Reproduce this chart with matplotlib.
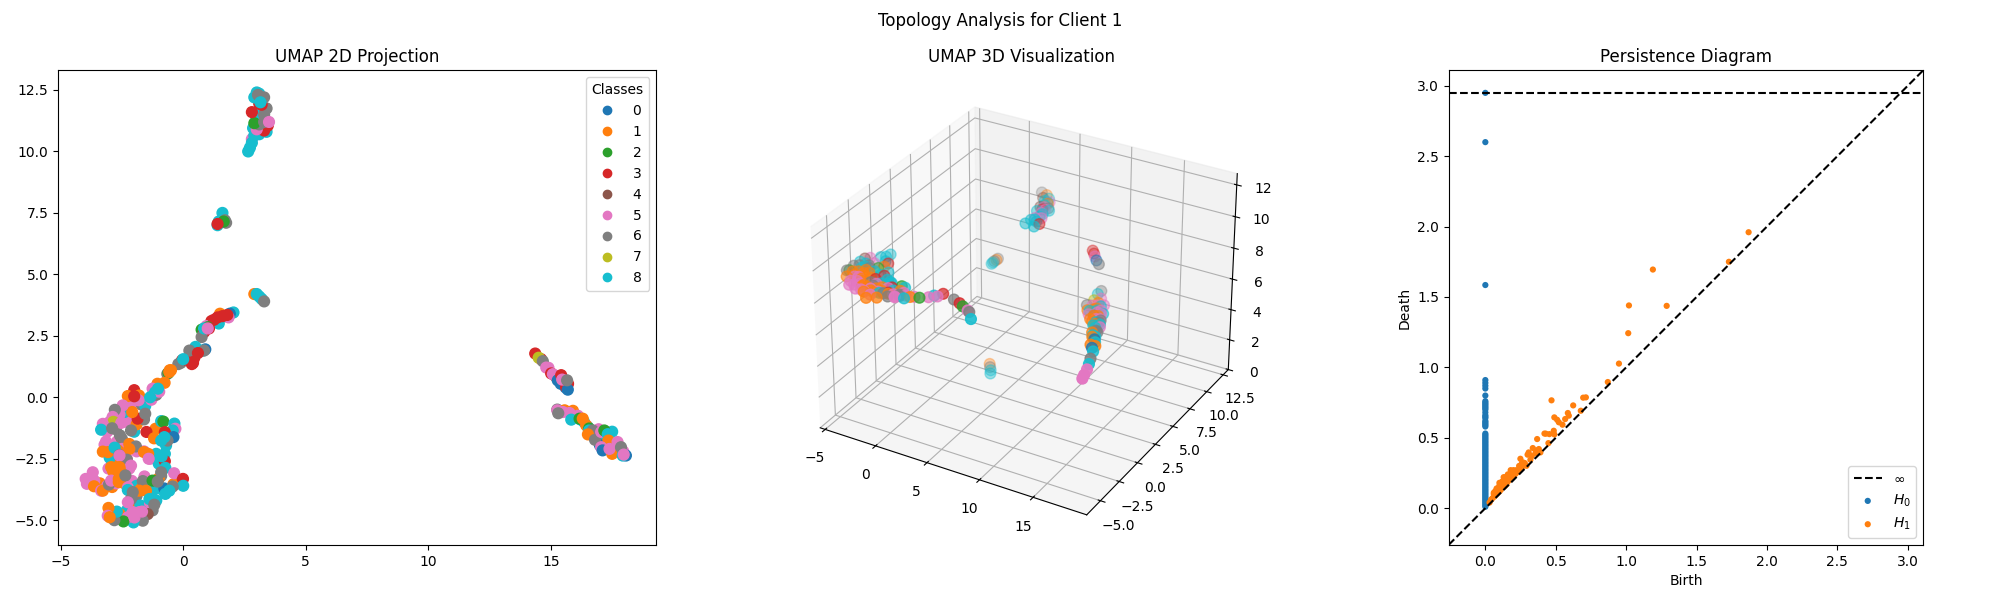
import matplotlib
matplotlib.use("Agg")
import numpy as np
import matplotlib.pyplot as plt

# ---- UMAP 2D, clusters, later points sit on top
fill_x = [-3.0, -3.1, -3.15, -3.0, -2.75, -2.7, -2.5, -2.5, -2.3, -2.2, -2.0, -1.9, -1.9, -2.3, -2.6, -2.9, -3.05, -2.85, -2.5, -2.2, -1.6, -1.35, -1.1, -1.0, -0.75, -0.75, -0.9, -1.0,
          -2.6, -2.4, -2.1, -1.9, -1.7, -1.4, -1.2, -1.0, -1.3, -1.1, -0.85, -2.1, -1.9, -2.2, -1.75, -3.4, -3.1, -2.9, -2.75, -1.6, -1.7, -1.55, -1.3, -1.1, -2.15, -2.4, -2.6,
          -2.0, -1.85, -2.3, -2.6, -1.35, -1.25, -1.5,
          15.7, 15.6, 14.6, 14.9, 15.2, 15.4, 15.9, 16.1, 16.35, 16.5, 16.2, 16.7, 16.9, 17.1, 17.3, 17.0, 17.4, 17.6, 17.75, 17.95, 17.2, 16.95, 17.5,
          0.2, 0.45, -0.1, 1.15, 1.7, 0.95, 3.2, 3.1, 3.0, 3.35, 3.2, 1.55, 1.75, 2.8]
fill_y = [-1.0, -1.4, -1.8, -2.2, -1.3, -1.8, -1.7, -2.1, -1.0, -1.9, -1.4, -1.1, -2.2, -2.5, -2.5, -2.6, -2.9, -3.0, -3.05, -2.9, -2.2, -2.5, -2.3, -2.7, -2.3, -2.6, -3.2, -3.3,
          -3.3, -3.5, -3.4, -3.6, -3.7, -3.5, -3.6, -3.7, -4.0, -4.2, -3.75, -4.0, -4.0, -4.4, -4.4, -3.5, -3.6, -3.65, -3.5, -0.9, -0.3, -0.35, -0.1, 0.1, -0.3, -0.6, -0.7,
          -4.95, -4.95, -4.6, -4.75, -4.3, -4.6, -4.6,
          0.55, 0.4, 1.55, 1.2, 0.85, 0.55, -0.55, -0.75, -1.0, -1.2, -0.9, -1.5, -1.5, -1.7, -1.85, -1.95, -2.05, -2.2, -2.2, -2.2, -1.4, -1.3, -1.4,
          1.5, 1.6, 1.4, 3.1, 3.3, 2.9, 11.4, 10.7, 11.6, 11.0, 12.1, 7.15, 7.1, 10.5]
fill_c = [5, 5, 5, 5, 6, 5, 6, 5, 5, 1, 8, 1, 5, 5, 5, 1, 5, 1, 5, 5, 5, 5, 8, 8, 8, 3, 6, 1,
          6, 1, 5, 8, 1, 8, 8, 8, 8, 8, 8, 5, 6, 1, 8, 1, 5, 1, 5, 6, 6, 8, 5, 6, 5, 8, 5,
          5, 8, 8, 1, 5, 6, 5,
          3, 0, 3, 5, 3, 0, 1, 5, 8, 8, 8, 1, 3, 8, 1, 0, 8, 0, 8, 5, 3, 5, 8,
          3, 3, 6, 3, 8, 5, 8, 8, 8, 6, 6, 8, 6, 5]

top_x = [2.65, 2.72, 2.8, 2.9, 2.85, 3.4, 3.3, 3.0, 3.45, 3.1, 2.95, 2.9, 2.8, 3.3, 3.3, 3.4, 3.1, 3.2, 2.9, 3.0, 3.1, 3.3, 3.05, 3.15, 3.5]
top_y = [10.0, 10.15, 10.35, 10.65, 10.95, 10.8, 10.85, 10.9, 11.05, 11.1, 11.2, 11.15, 11.6, 11.5, 11.2, 11.75, 11.95, 11.9, 12.2, 12.4, 12.35, 12.2, 12.3, 12.0, 11.2]
top_c = [8, 8, 8, 8, 8, 8, 3, 5, 3, 6, 8, 2, 3, 6, 6, 6, 3, 3, 8, 8, 8, 6, 6, 8, 5]

mid_x = [1.6, 1.45, 1.4, 1.7, 1.65, 1.4, 2.9, 3.0, 3.1, 3.2, 3.3]
mid_y = [7.5, 7.15, 7.0, 7.2, 7.15, 7.05, 4.2, 4.2, 4.1, 4.0, 3.9]
mid_c = [8, 8, 8, 6, 2, 3, 1, 8, 8, 8, 6]

chain_x = [2.05, 1.9, 1.85, 1.5, 1.45, 1.4, 1.25, 1.6, 1.8, 1.0, 0.75, 0.85, 0.75, 0.85, 1.05, 1.0,
           0.9, 0.8, 0.5, 0.25, 0.85, 0.4, 0.35, 0.6, -0.05, -0.2, 0.0, -0.65, -0.6, -0.55, -0.5,
           -1.05, -1.2, -1.25, -1.15]
chain_y = [3.45, 3.4, 3.25, 3.4, 3.0, 3.25, 3.15, 3.3, 3.35, 2.85, 2.75, 2.65, 2.45, 2.8, 2.8, 2.8,
           1.95, 1.9, 2.05, 1.9, 1.9, 1.4, 1.35, 1.8, 1.5, 1.35, 1.55, 0.95, 1.0, 1.1, 1.1,
           0.55, 0.25, 0.35, 0.2]
chain_c = [8, 0, 5, 1, 8, 3, 3, 3, 3, 2, 2, 3, 6, 8, 3, 5,
           0, 8, 8, 6, 6, 3, 3, 3, 3, 6, 8, 6, 2, 1, 1,
           1, 6, 5, 8]

low_x = [-0.57, -0.76, -0.98, -1.03, -2.0, -1.8, -2.26, -1.82, -1.35, -2.0, -1.86, -2.08, -1.55, -2.47, -2.79, -2.88, -2.84, -2.85,
         -2.53, -3.28, -3.35, -2.9, -2.13, -2.58, -1.13, -1.5, -0.9, -0.81, -0.36, -0.32, -0.43, -0.75, -0.4, -1.19, -0.70, -0.64, -0.77, -0.9,
         -3.21, -3.28, -3.0, -3.07, -2.67, -2.45, -2.8, -2.6, -1.93, -2.2, -1.6, -1.43, -1.41, -2.3, -2.6, -2.13, -0.88, -0.73, -0.9, -2.94, -2.6, -2.87,
         -3.69, -3.98, -3.93, -3.63, -3.64, -3.35, -3.28, -3.03, -2.94, -2.63, -2.63, -2.36, -2.26, -1.58, -1.65, -2.26, -1.25, -0.77, -0.31, -0.4, -0.37, -0.01, 0.0, -0.43, -0.57, -0.73, -1.04,
         -1.79, -1.52, -1.38, -2.06, -2.13, -2.26, -1.18, -1.72, -1.79, -1.45, -1.65, -2.06, -2.03, -2.26, -2.44, -2.81, -2.71, -3.05, -3.08, -3.0, -1.99, -1.68]
low_y = [1.03, 0.59, 0.23, 0.35, 0.29, 0.07, 0.05, -0.12, 0.0, 0.04, -0.87, -0.6, -0.67, -0.33, -0.51, -0.8, -1.1, -1.0, -1.04, -1.08, -1.32, -1.26, -1.35, -1.55, -1.28, -1.41,
         -0.97, -0.99, -1.07, -1.28, -1.35, -1.42, -1.62, -1.67, -1.96, -1.76, -1.62, -1.76, -1.93, -2.21, -2.46, -2.23, -2.16, -2.82, -2.05, -2.35, -2.0, -2.1, -2.23, -2.3, -2.5, -2.54, -2.37, -2.78,
         -2.4, -2.87, -3.05, -2.84, -2.84, -2.98,
         -3.05, -3.32, -3.52, -3.39, -3.62, -3.8, -3.8, -3.55, -3.39, -3.32, -3.45, -3.18, -3.67, -3.22, -3.41, -3.77, -3.39, -3.71, -3.52, -3.54, -3.09, -3.32, -3.6, -3.63, -3.8, -3.93, -3.43, -3.8, -3.8, -4.14, -3.86, -4.14, -4.27, -4.37, -4.61, -4.67, -4.75, -5.02, -4.67, -5.09, -4.88, -5.05, -5.0, -4.65, -4.5, -4.82, -4.88, -4.89, -4.65]
low_c = [1, 1, 5, 8, 3, 1, 1, 5, 8, 3, 3, 1, 6, 5, 6, 5, 1, 7, 5, 5, 8, 6, 6, 6, 1, 3, 8, 2, 8, 5, 8, 3, 0, 1, 8, 6, 8, 8,
         5, 1, 8, 1, 1, 1, 8, 6, 6, 1, 1, 1, 5, 6, 5, 5, 8, 8, 6, 1, 1, 1,
         5, 5, 5, 5, 1, 5, 1, 6, 5, 1, 1, 6, 5, 5, 6, 8, 2, 0, 3, 1, 5, 3, 8, 6, 8, 8, 6,
         1, 1, 8, 6, 6, 5, 6, 8, 5, 4, 6, 5, 8, 5, 2, 6, 8, 1, 5, 1, 5, 5]

right_x = [14.36, 14.5, 14.67, 14.81, 15.01, 15.08, 15.28, 15.42, 15.62, 15.69, 15.46, 15.66,
           15.26, 15.56, 15.26, 15.49, 15.76, 15.83, 16.17, 15.3, 16.3, 16.44, 16.56, 16.56, 16.71, 16.51, 16.8, 17.05, 17.18, 17.32,
           17.35, 17.05, 17.11, 17.5, 17.39, 17.72, 17.86, 18.06, 17.93, 17.97]
right_y = [1.78, 1.61, 1.47, 1.21, 0.97, 0.94, 0.69, 0.9, 0.42, 0.31, 0.72, 0.69,
           -0.5, -0.53, -0.53, -0.6, -0.64, -0.91, -0.87, -0.65, -0.87, -1.14, -1.27, -1.35, -1.35, -1.51, -1.73, -1.41, -1.35, -1.5,
           -1.76, -2.03, -2.16, -2.3, -2.1, -1.82, -2.03, -2.37, -2.37, -2.33]
right_c = [3, 7, 6, 5, 3, 5, 0, 3, 3, 0, 5, 6,
           6, 1, 5, 5, 5, 8, 2, 6, 1, 1, 2, 8, 6, 1, 6, 5, 2, 8,
           1, 5, 0, 1, 5, 5, 6, 0, 8, 5]

umap2_x = fill_x + top_x + mid_x + chain_x + low_x + right_x
umap2_y = fill_y + top_y + mid_y + chain_y + low_y + right_y
umap2_c = fill_c + top_c + mid_c + chain_c + low_c + right_c

# ---- UMAP 3D clusters
left3_x = [-3.8, -3.3, -2.9, -2.6, -2.2, -1.8, -1.4, -1.0, -0.6, -0.1, 0.3, 0.7, -2.9, -3.3, -3.9, -4.3, -4.2, -3.5, -2.9, -1.6, -0.9, 1.3, 1.0, 0.0, -1.4,
           -3.4, -3.0, -3.6, -3.0, -2.3, -1.9, -2.2, -1.5, -1.1, -0.7, -0.2, -1.2, -2.0, -0.4, 0.4, 0.9, 1.3, -3.6, -4.0, -3.4, -2.8, -2.7, -1.9, -1.0, -0.5, 2.4, 1.8,
           -3.06, -3.18, -3.52, -4.2, -4.52, -4.57, -4.65, -4.71, -4.54, -3.78, -2.4, -2.4, -2.65, -3.75, -4.16, -3.26, -1.57, -1.56, -3.23, -2.44, -1.95,
           -0.61, -0.37, 0.59, 0.95, -2.67, -1.6, -0.88, -0.39, 0.22, 0.5, 1.18, 1.67, 2.1, -0.88, -0.16, 1.06, 2.82, 3.41, 3.65, 4.14, 3.97,
           5.37, 6.07, 6.55, 7.22, 7.46, 8.15]
left3_y = [-3.6, -4.2, -4.3, -4.9, -5.1, -5.0, -5.1, -4.9, -5.2, -5.2, -5.1, -5.0, -3.4, -2.9, -3.1, -2.9, -3.8, -4.9, -5.2, -5.6, -5.4, -4.5, -5.2, -4.3, -4.4,
           -3.2, -3.9, -4.3, -4.7, -3.9, -3.3, -4.9, -4.7, -4.2, -4.6, -4.5, -5.3, -5.5, -5.0, -4.6, -4.4, -5.0, -2.6, -2.5, -2.2, -1.6, -2.6, -3.9, -3.6, -4.0, -4.6, -5.1,
           -0.67, -1.07, -1.29, -1.72, -1.97, -2.48, -3.14, -3.88, -3.79, -2.84, -1.77, -2.25, -3.09, -4.11, -4.56, -3.63, -3.26, -2.78, -5.38, -5.6, -4.4,
           -3.74, -3.85, -3.85, -3.91, -4.53, -5.66, -5.77, -5.29, -4.99, -5.42, -4.84, -4.74, -4.76, -6.25, -5.89, -5.28, -4.54, -4.2, -3.84, -3.36, -3.83,
           -3.64, -3.86, -4.1, -4.38, -4.5, -5.2]
left3_z = [9.0] * len(left3_x)
left3_c = [1, 5, 1, 5, 1, 1, 5, 1, 5, 6, 1, 5, 1, 6, 8, 6, 1, 5, 5, 5, 1, 5, 5, 3, 5,
           1, 1, 5, 5, 1, 8, 1, 6, 8, 1, 5, 1, 5, 1, 8, 1, 6, 6, 8, 5, 8, 2, 3, 8, 8, 5, 8,
           8, 8, 8, 5, 4, 8, 6, 6, 2, 8, 3, 1, 8, 1, 1, 1, 3, 8, 5, 5, 6,
           8, 8, 2, 8, 1, 1, 5, 8, 3, 6, 6, 5, 1, 1, 1, 5, 2, 5, 8, 3, 5,
           6, 3, 2, 5, 6, 8]

top3_x = [6.4, 6.6, 6.3, 6.9, 7.1, 7.0, 6.9, 7.1, 7.0, 6.2, 5.7, 7.3, 6.9, 5.12, 5.72, 6.55, 6.07, 6.66, 7.26, 6.41, 7.37, 6.68, 7.55, 7.72, 6.76, 6.42, 6.55]
top3_y = [6.9, 6.2, 6.1, 5.9, 5.3, 4.4, 5.4, 4.9, 6.2, 7.4, 7.3, 4.2, 4.6, 7.94, 7.77, 7.0, 6.99, 5.86, 5.92, 5.5, 4.78, 3.63, 3.54, 4.01, 4.24, 6.46, 6.76]
top3_z = [11.0] * len(top3_x)
top3_c = [8, 5, 4, 5, 8, 8, 5, 8, 6, 8, 4, 8, 5, 6, 1, 5, 8, 3, 8, 8, 5, 8, 8, 3, 8, 8, 1]

small3_x = [3.6, 3.58, 3.56, 3.61, 3.61]
small3_y = [3.38, 3.58, 3.78, 3.99, 4.19]
small3_z = [8.0, 8.0, 8.0, 8.0, 8.0]
small3_c = [8, 8, 6, 1, 6]

red3_x = [11.1, 11.44, 11.74, 12.17, 12.65]
red3_y = [6.4, 6.09, 5.77, 5.36, 4.99]
red3_z = [9.0, 9.0, 9.0, 9.0, 9.0]
red3_c = [3, 3, 5, 0, 6]

tall3_x = [13.0, 13.4, 13.7, 14.0, 14.2, 14.4, 14.8, 14.3, 14.6, 15.0, 15.2, 15.4, 15.6, 16.3,
           13.2, 13.0, 13.8, 13.2, 13.9, 14.6, 14.2, 14.9, 15.2, 15.3, 16.0, 16.2, 13.5,
           12.47, 12.46, 12.69, 13.06, 12.56, 13.65, 13.4, 13.41, 14.26, 14.73, 13.88, 14.59, 15.41, 15.05, 15.74, 15.86, 16.55, 16.9, 17.19, 17.45, 17.65, 17.8, 13.89, 13.88, 14.53]
tall3_y = [3.0, 3.9, 3.3, 3.4, 2.7, 3.1, 2.0, 2.3, 1.7, 1.8, 1.0, 0.2, 0.3, -0.7,
           4.2, 3.7, 4.1, 3.0, 2.6, 2.4, 1.9, 1.3, 1.5, 0.4, -0.3, -1.0, 3.5,
           5.66, 5.19, 4.35, 4.77, 3.56, 3.88, 3.31, 2.58, 3.01, 2.29, 2.1, 1.5, 0.87, 0.68, 0.0, -0.7, -1.35, -2.2, -2.82, -3.44, -4.1, -4.54, 3.07, 2.59, 1.95]
tall3_z = [7.0] * len(tall3_x)
tall3_c = [1, 5, 8, 5, 1, 8, 6, 5, 1, 8, 6, 1, 8, 1,
           1, 5, 5, 8, 6, 5, 1, 8, 5, 8, 8, 0, 1,
           6, 8, 7, 5, 6, 8, 1, 5, 5, 6, 1, 8, 6, 1, 0, 1, 8, 6, 8, 5, 5, 5, 5, 1, 8]

foot3_x = [5.32, 5.61, 5.91, 6.15]
foot3_y = [0.76, 0.42, 0.1, -0.26]
foot3_z = [3.0, 3.0, 3.0, 3.0]
foot3_c = [1, 6, 8, 8]

umap3_x = left3_x + top3_x + small3_x + red3_x + tall3_x + foot3_x
umap3_y = left3_y + top3_y + small3_y + red3_y + tall3_y + foot3_y
umap3_z = left3_z + top3_z + small3_z + red3_z + tall3_z + foot3_z
umap3_c = left3_c + top3_c + small3_c + red3_c + tall3_c + foot3_c

# ---- persistence diagram
h0_death = [2.95, 2.60, 1.585, 0.91, 0.89, 0.87, 0.85, 0.80, 0.76, 0.75, 0.74, 0.73, 0.72, 0.71, 0.70, 0.68, 0.66, 0.65, 0.64, 0.62, 0.61, 0.60,
            0.59, 0.58, 0.53, 0.52, 0.51, 0.50, 0.49, 0.48, 0.47, 0.46, 0.45, 0.44, 0.43, 0.42, 0.41, 0.40, 0.39, 0.38, 0.37, 0.36, 0.35, 0.34,
            0.33, 0.32, 0.31, 0.30, 0.29, 0.28, 0.27, 0.26, 0.25, 0.24, 0.23, 0.22, 0.21, 0.20, 0.19, 0.18, 0.17, 0.16, 0.15, 0.14, 0.13, 0.12,
            0.11, 0.10, 0.09, 0.08, 0.07, 0.06, 0.05, 0.04, 0.03, 0.02, 0.01]
h0_birth = [0.0] * len(h0_death)

h1_birth = [1.87, 1.73, 1.19, 1.02, 1.288, 1.015, 0.949, 0.87, 0.47, 0.624, 0.695, 0.714, 0.678, 0.586, 0.593, 0.49, 0.51, 0.522, 0.548, 0.567,
            0.368, 0.43, 0.455, 0.486, 0.49, 0.448, 0.337, 0.308, 0.356, 0.391, 0.249, 0.268, 0.32, 0.292,
            0.03, 0.04, 0.05, 0.06, 0.06, 0.07, 0.07, 0.08, 0.08, 0.09, 0.09, 0.1, 0.1, 0.1, 0.11, 0.12, 0.12, 0.13, 0.13, 0.13, 0.14, 0.14,
            0.15, 0.15, 0.16, 0.16, 0.17, 0.18, 0.18, 0.19, 0.2, 0.2, 0.21, 0.22, 0.22, 0.23, 0.24, 0.25, 0.26, 0.27, 0.28,
            0.06, 0.08, 0.1, 0.12, 0.14, 0.16, 0.18, 0.24, 0.26, 0.3, 0.33, 0.36, 0.42, 0.36, 0.38]
h1_death = [1.96, 1.75, 1.695, 1.44, 1.437, 1.243, 1.027, 0.896, 0.766, 0.73, 0.785, 0.787, 0.692, 0.676, 0.657, 0.645, 0.628, 0.61, 0.593, 0.633,
            0.491, 0.529, 0.526, 0.55, 0.524, 0.462, 0.427, 0.396, 0.391, 0.396, 0.351, 0.325, 0.344, 0.301,
            0.04, 0.06, 0.07, 0.08, 0.1, 0.09, 0.12, 0.1, 0.13, 0.11, 0.14, 0.12, 0.15, 0.18, 0.13, 0.15, 0.17, 0.15, 0.18, 0.22, 0.16, 0.2,
            0.17, 0.21, 0.19, 0.23, 0.2, 0.21, 0.25, 0.22, 0.23, 0.27, 0.24, 0.25, 0.27, 0.26, 0.27, 0.28, 0.29, 0.31, 0.32,
            0.11, 0.14, 0.16, 0.19, 0.22, 0.24, 0.27, 0.3, 0.32, 0.38, 0.37, 0.41, 0.53, 0.4, 0.42]
inf_level = 2.948
diagram_lim = (-0.26, 3.11)

fig = plt.figure(figsize=(20, 6))

ax1 = fig.add_subplot(1, 3, 1)
sc = ax1.scatter(umap2_x, umap2_y, c=umap2_c, cmap='tab10', s=60)
ax1.set_xlim(-5.1, 19.3)
ax1.set_ylim(-6.0, 13.3)
ax1.set_title('UMAP 2D Projection')
ax1.legend(*sc.legend_elements(), title='Classes', loc='upper right')

ax2 = fig.add_subplot(1, 3, 2, projection='3d')
ax2.scatter(umap3_x, umap3_y, umap3_z, c=umap3_c, cmap='tab10', s=60)
ax2.set_xlim(-5.5, 19.9)
ax2.set_ylim(-6.8, 13.3)
ax2.set_zlim(0, 12.7)
ax2.set_title('UMAP 3D Visualization')

ax3 = fig.add_subplot(1, 3, 3)
ax3.plot(diagram_lim, diagram_lim, '--', c='k')
ax3.plot(diagram_lim, [inf_level, inf_level], '--', c='k', label=r'$\infty$')
ax3.scatter(h0_birth, h0_death, s=20, edgecolor='none', label='$H_0$')
ax3.scatter(h1_birth, h1_death, s=20, edgecolor='none', label='$H_1$')
ax3.set_xlim(diagram_lim)
ax3.set_ylim(diagram_lim)
ax3.set_aspect('equal', 'box')
ax3.set_xlabel('Birth')
ax3.set_ylabel('Death')
ax3.set_title('Persistence Diagram')
ax3.legend(loc='lower right')

fig.suptitle('Topology Analysis for Client 1')
fig.tight_layout()
fig.savefig('out.png', dpi=100)
